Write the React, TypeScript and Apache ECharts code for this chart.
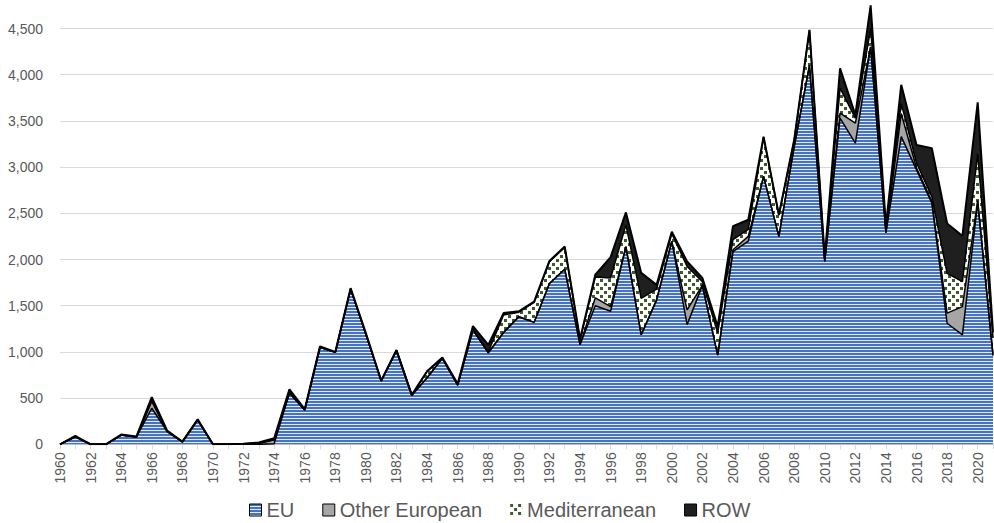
import React, { useEffect, useRef } from 'react';
import * as echarts from 'echarts';

const years = [
  '1960','1961','1962','1963','1964','1965','1966','1967','1968','1969',
  '1970','1971','1972','1973','1974','1975','1976','1977','1978','1979',
  '1980','1981','1982','1983','1984','1985','1986','1987','1988','1989',
  '1990','1991','1992','1993','1994','1995','1996','1997','1998','1999',
  '2000','2001','2002','2003','2004','2005','2006','2007','2008','2009',
  '2010','2011','2012','2013','2014','2015','2016','2017','2018','2019',
  '2020','2021',
];

const eu = [
  0, 80, 0, 0, 100, 80, 390, 140, 25, 265,
  0, 0, 0, 0, 5, 555, 370, 1050, 995, 1680,
  1190, 685, 1015, 530, 720, 930, 640, 1240, 990, 1210,
  1380, 1320, 1740, 1895, 1080, 1500, 1440, 2140, 1185, 1560,
  2195, 1295, 1720, 965, 2085, 2200, 2900, 2250, 3220, 4100,
  1980, 3530, 3260, 4300, 2290, 3330, 2970, 2610, 1310, 1185,
  2620, 960,
];

const otherEuropean = [
  0, 0, 0, 0, 0, 0, 80, 0, 0, 0,
  0, 0, 5, 10, 45, 0, 0, 0, 0, 0,
  0, 0, 0, 0, 0, 0, 0, 0, 0, 0,
  0, 0, 0, 0, 0, 85, 50, 0, 0, 0,
  0, 160, 0, 0, 20, 50, 0, 0, 0, 0,
  0, 55, 215, 0, 0, 250, 20, 20, 110, 305,
  20, 10,
];

const mediterranean = [
  0, 0, 0, 0, 0, 0, 0, 0, 0, 0,
  0, 0, 0, 0, 0, 0, 0, 0, 0, 0,
  0, 0, 0, 0, 70, 0, 0, 0, 10, 190,
  50, 215, 235, 235, 50, 225, 310, 235, 395, 120,
  85, 470, 40, 240, 110, 75, 420, 230, 65, 380,
  20, 270, 55, 200, 50, 110, 55, 50, 430, 270,
  500, 180,
];

const row = [
  0, 10, 0, 0, 5, 5, 40, 10, 5, 5,
  0, 0, 0, 10, 15, 40, 10, 10, 5, 10,
  10, 5, 5, 5, 0, 10, 15, 40, 75, 20,
  10, 10, 10, 10, 10, 25, 225, 135, 275, 45,
  20, 55, 40, 70, 145, 105, 10, 5, 10, 5,
  20, 215, 35, 250, 30, 200, 195, 525, 540, 495,
  560, 60,
];

const seriesNames = ['EU', 'Other European', 'Mediterranean', 'ROW'];

const FONT = '"Liberation Sans", Arial, sans-serif';
const TEXT = '#595959';
const OFFSET = 25; // chart div starts above the page so the 5,000 line falls off-screen

function makeCanvas(w: number, h: number, draw: (ctx: CanvasRenderingContext2D) => void) {
  const c = document.createElement('canvas');
  c.width = w;
  c.height = h;
  const ctx = c.getContext('2d') as CanvasRenderingContext2D;
  draw(ctx);
  return c;
}

export default function App() {
  const ref = useRef<HTMLDivElement>(null);

  useEffect(() => {
    if (!ref.current) return;
    const chart = echarts.init(ref.current, null, { renderer: 'svg' });

    const stripe = makeCanvas(4, 3, (ctx) => {
      ctx.fillStyle = '#e3eaf6';
      ctx.fillRect(0, 0, 4, 3);
      ctx.fillStyle = '#4472c4';
      ctx.fillRect(0, 0, 4, 2);
    });
    const dots = makeCanvas(8, 8, (ctx) => {
      ctx.fillStyle = '#ffffff';
      ctx.fillRect(0, 0, 8, 8);
      ctx.fillStyle = '#385e26';
      ctx.fillRect(0, 0, 3, 3);
      ctx.fillRect(4, 4, 3, 3);
    });
    const stripePat: any = { image: stripe.toDataURL(), repeat: 'repeat', imageWidth: 4, imageHeight: 3 };
    const dotsPat: any = { image: dots.toDataURL(), repeat: 'repeat', imageWidth: 8, imageHeight: 8 };

    const fills: any[] = [stripePat, '#a6a6a6', dotsPat, '#1f1f1f'];
    const datasets = [eu, otherEuropean, mediterranean, row];

    const series = seriesNames.map((name, i) => ({
      name,
      type: 'line',
      stack: 'total',
      data: datasets[i],
      symbol: 'none',
      showSymbol: false,
      lineStyle: { color: '#000', width: i === 3 ? 2 : 1.5 },
      areaStyle: { color: fills[i], opacity: 1 },
      itemStyle: { color: fills[i], borderColor: '#000' },
      emphasis: { disabled: true },
      z: 2,
    }));

    chart.setOption({
      animation: false,
      grid: { left: 60, right: 1, top: OFFSET - 17.7, bottom: 78.7 },
      xAxis: {
        type: 'category',
        data: years,
        boundaryGap: false,
        axisLine: { lineStyle: { color: '#d9d9d9', width: 1 } },
        axisTick: { show: true, interval: 0, length: 5, lineStyle: { color: '#d9d9d9' } },
        axisLabel: {
          interval: 1,
          rotate: 90,
          margin: 8,
          color: TEXT,
          fontSize: 14,
          fontFamily: FONT,
        },
      },
      yAxis: {
        type: 'value',
        min: 0,
        max: 5000,
        interval: 500,
        axisLine: { show: false },
        axisTick: { show: false },
        splitLine: { lineStyle: { color: '#d9d9d9', width: 1 } },
        axisLabel: {
          margin: 17,
          color: TEXT,
          fontSize: 14,
          fontFamily: FONT,
          formatter: (v: number) => (v >= 5000 ? '' : v.toLocaleString('en-US')),
        },
      },
      legend: {
        left: 249,
        top: 500 + OFFSET,
        padding: 0,
        icon: 'rect',
        itemWidth: 12,
        itemHeight: 12,
        itemGap: 28,
        textStyle: { color: TEXT, fontSize: 20, lineHeight: 20, fontFamily: FONT },
        data: [
          { name: 'EU', itemStyle: { color: stripePat, borderColor: '#000', borderWidth: 1 } },
          { name: 'Other European', itemStyle: { color: '#a6a6a6', borderColor: '#000', borderWidth: 1 } },
          { name: 'Mediterranean', itemStyle: { color: dotsPat, borderWidth: 0 } },
          { name: 'ROW', itemStyle: { color: '#1f1f1f', borderColor: '#000', borderWidth: 1 } },
        ],
      },
      series,
    });

    return () => chart.dispose();
  }, []);

  return (
    <div
      ref={ref}
      style={{ position: 'fixed', left: 0, top: -OFFSET, width: 994, height: 523 + OFFSET, background: '#fff' }}
    />
  );
}
